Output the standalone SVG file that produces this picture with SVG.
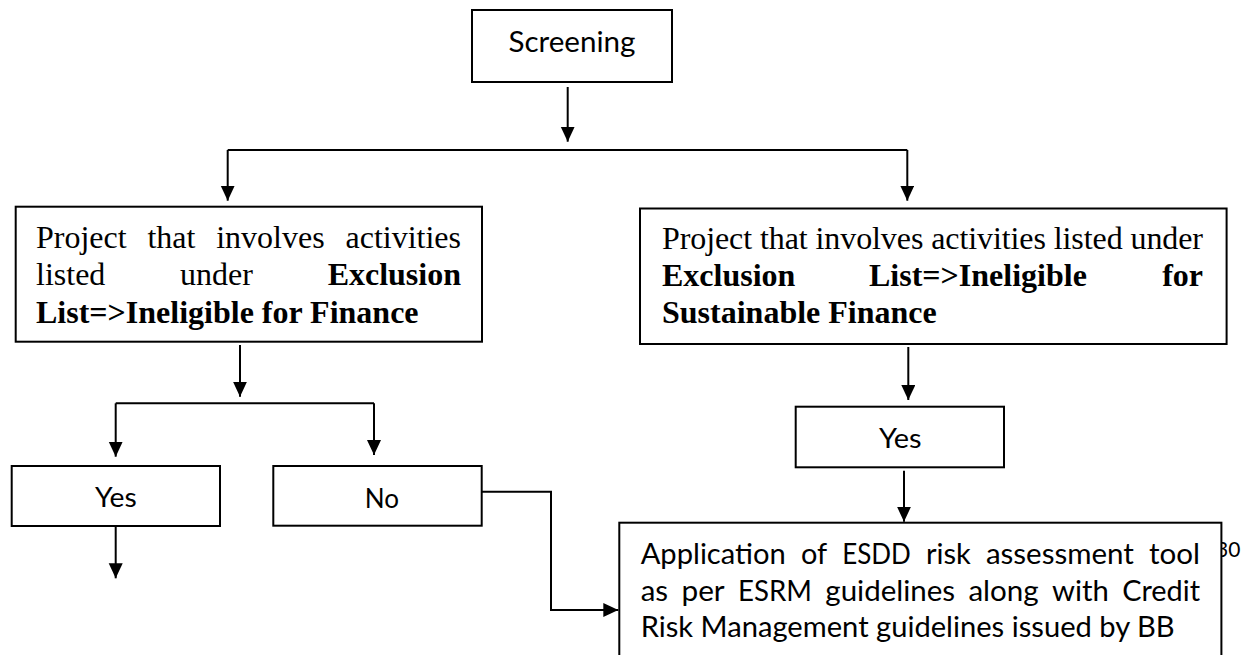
<svg xmlns="http://www.w3.org/2000/svg" width="1255" height="655" viewBox="0 0 1255 655">
<style>
.box{fill:#fff;stroke:#000;stroke-width:2}
.ln{fill:none;stroke:#000;stroke-width:2}
.tr{font-family:"Liberation Serif","Times New Roman",serif;font-size:32px;fill:#000}
.b{font-weight:bold}
.ca{font-family:"Lato","Carlito","Calibri",sans-serif;font-size:28px;fill:#000}
</style>
<defs>
<marker id="ah" markerUnits="userSpaceOnUse" markerWidth="16" markerHeight="15" refX="15" refY="7" orient="auto">
<path d="M0,0 L15,7 L0,14 z" fill="#000"/>
</marker>
</defs>
<rect width="1255" height="655" fill="#fff"/>

<text x="1216" y="557" class="ca" style="font-size:21px">30</text>

<g id="connectors">
<path class="ln" d="M567.7,87 V141.7" marker-end="url(#ah)"/>
<path class="ln" d="M227.7,150 H907.3"/>
<path class="ln" d="M227.7,150 V200.7" marker-end="url(#ah)"/>
<path class="ln" d="M907.3,150 V200.7" marker-end="url(#ah)"/>
<path class="ln" d="M240,345 V396.7" marker-end="url(#ah)"/>
<path class="ln" d="M115.7,403.3 H374"/>
<path class="ln" d="M115.7,403.3 V456.7" marker-end="url(#ah)"/>
<path class="ln" d="M374,403.3 V455" marker-end="url(#ah)"/>
<path class="ln" d="M115.7,526 V578.3" marker-end="url(#ah)"/>
<path class="ln" d="M481.7,491.7 H551 V610 H618.3" marker-end="url(#ah)"/>
<path class="ln" d="M908.3,347 V400" marker-end="url(#ah)"/>
<path class="ln" d="M904,470.7 V521.7" marker-end="url(#ah)"/>
</g>

<g id="screening">
<rect class="box" x="472" y="10" width="200" height="72"/>
<text class="ca" x="572" y="51.7" text-anchor="middle" style="font-size:29px" textLength="127" lengthAdjust="spacingAndGlyphs">Screening</text>
</g>

<g id="exclusion-left">
<rect class="box" x="15.7" y="206.7" width="466.3" height="135"/>
<text class="tr" x="36" y="247.5">Project</text>
<text class="tr" x="147.4" y="247.5">that</text>
<text class="tr" x="216.2" y="247.5">involves</text>
<text class="tr" x="461" y="247.5" text-anchor="end">activities</text>
<text class="tr" x="36" y="285">listed</text>
<text class="tr" x="180" y="285">under</text>
<text class="tr b" x="461" y="285" text-anchor="end">Exclusion</text>
<text class="tr b" x="36" y="322.5">List=&gt;Ineligible for Finance</text>
</g>

<g id="exclusion-right">
<rect class="box" x="640" y="208.5" width="586.6" height="135.5"/>
<text class="tr" x="662" y="249" textLength="541" lengthAdjust="spacing">Project that involves activities listed under</text>
<text class="tr b" x="662" y="286">Exclusion</text>
<text class="tr b" x="869" y="286">List=&gt;Ineligible</text>
<text class="tr b" x="1203" y="286" text-anchor="end">for</text>
<text class="tr b" x="662" y="323">Sustainable Finance</text>
</g>

<g id="yes-left">
<rect class="box" x="11.7" y="466" width="208.3" height="60"/>
<text class="ca" x="115.8" y="506.7" text-anchor="middle" style="font-size:27px" textLength="41.7" lengthAdjust="spacingAndGlyphs">Yes</text>
</g>

<g id="no">
<rect class="box" x="273.3" y="466" width="208.4" height="59.7"/>
<text class="ca" x="382" y="507.7" text-anchor="middle" style="font-size:27px" textLength="34.3" lengthAdjust="spacingAndGlyphs">No</text>
</g>

<g id="yes-right">
<rect class="box" x="795.7" y="406.7" width="208.3" height="60.6"/>
<text class="ca" x="900.3" y="448.3" text-anchor="middle" style="font-size:27px" textLength="42.7" lengthAdjust="spacingAndGlyphs">Yes</text>
</g>

<g id="application">
<rect class="box" x="619.3" y="522.7" width="602.1" height="145"/>
<text class="ca" x="640.7" y="564" textLength="145.1" lengthAdjust="spacingAndGlyphs">Application</text>
<text class="ca" x="800.9" y="564" textLength="26.2" lengthAdjust="spacingAndGlyphs">of</text>
<text class="ca" x="842.2" y="564" textLength="68.6" lengthAdjust="spacingAndGlyphs">ESDD</text>
<text class="ca" x="925.9" y="564" textLength="44.9" lengthAdjust="spacingAndGlyphs">risk</text>
<text class="ca" x="985.9" y="564" textLength="148" lengthAdjust="spacingAndGlyphs">assessment</text>
<text class="ca" x="1149" y="564" textLength="51" lengthAdjust="spacingAndGlyphs">tool</text>
<text class="ca" x="640.7" y="600.5" textLength="27.4" lengthAdjust="spacingAndGlyphs">as</text>
<text class="ca" x="681.5" y="600.5" textLength="43.2" lengthAdjust="spacingAndGlyphs">per</text>
<text class="ca" x="738" y="600.5" textLength="73.9" lengthAdjust="spacingAndGlyphs">ESRM</text>
<text class="ca" x="825.3" y="600.5" textLength="129.8" lengthAdjust="spacingAndGlyphs">guidelines</text>
<text class="ca" x="968.4" y="600.5" textLength="70.3" lengthAdjust="spacingAndGlyphs">along</text>
<text class="ca" x="1052.1" y="600.5" textLength="56.8" lengthAdjust="spacingAndGlyphs">with</text>
<text class="ca" x="1122.2" y="600.5" textLength="77.8" lengthAdjust="spacingAndGlyphs">Credit</text>
<text class="ca" x="640.7" y="637" textLength="534" lengthAdjust="spacingAndGlyphs">Risk Management guidelines issued by BB</text>
</g>
</svg>
